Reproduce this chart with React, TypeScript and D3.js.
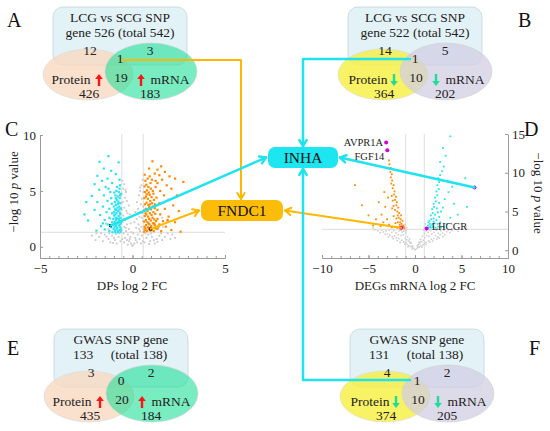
import { useEffect, useRef } from "react";
import * as d3 from "d3";

const SERIF = "'Liberation Serif', 'Times New Roman', Times, serif";

// ---- Venn panels (A, B, E, F)
const vennLetters = ["A", "B", "E", "F"];
const vennTitle1 = ["LCG vs SCG SNP", "LCG vs SCG SNP", "GWAS SNP gene", "GWAS SNP gene"];
const vennTitle2 = [["gene 526 (total 542)"], ["gene 522 (total 542)"], ["133", "(total 138)"], ["131", "(total 138)"]];
// [snp&protein, snp&mRNA, all three, protein&mRNA, protein, mRNA]
const vennCounts = [
  [12, 3, 1, 19, 426, 183],
  [14, 5, 1, 10, 364, 202],
  [3, 2, 0, 20, 435, 184],
  [4, 2, 1, 10, 374, 205],
];
const vennDirection = ["up", "down", "up", "down"];
const hubGenes = ["INHA", "FNDC1"];

// ---- Volcano C (DPs)
const cGrey = [
  [-0.55, 5.9], [-0.45, 5.6], [-0.5, 5.2], [-0.35, 4.9], [-0.58, 4.7], [-0.42, 4.4], [-0.3, 4.1], [-0.52, 4.0], [-0.2, 3.7], [-0.45, 3.5],
  [-0.58, 3.3], [-0.33, 3.2], [-0.15, 2.9], [-0.5, 2.8], [-0.25, 2.6], [-0.4, 2.4], [-0.55, 2.2], [-0.1, 2.1], [-0.3, 2.0], [-0.45, 1.8],
  [-0.2, 1.6], [-0.58, 1.5], [-0.35, 1.4], [-0.05, 1.3], [-0.48, 1.2], [-0.25, 1.1], [-0.12, 0.9], [-0.4, 0.8], [-0.55, 0.7], [-0.3, 0.6],
  [-0.18, 0.5], [-0.08, 0.3], [-0.45, 0.4], [-0.25, 0.2], [-0.02, 0.1], [-0.38, 5.1], [-0.27, 3.0], [-0.48, 2.5], [-0.36, 1.7], [-0.15, 0.7],
  [0.55, 6.0], [0.48, 5.5], [0.4, 5.3], [0.58, 4.9], [0.35, 4.6], [0.5, 4.3], [0.25, 4.0], [0.45, 3.8], [0.58, 3.6], [0.3, 3.4],
  [0.15, 3.1], [0.52, 3.0], [0.38, 2.7], [0.22, 2.5], [0.56, 2.3], [0.1, 2.2], [0.33, 2.0], [0.47, 1.8], [0.2, 1.7], [0.58, 1.6],
  [0.4, 1.4], [0.05, 1.2], [0.28, 1.1], [0.5, 1.0], [0.15, 0.8], [0.38, 0.7], [0.55, 0.5], [0.25, 0.4], [0.1, 0.3], [0.45, 0.3],
  [0.02, 0.15], [0.42, 5.0], [0.3, 3.0], [0.5, 2.6], [0.36, 1.6], [0.18, 0.6],
  [-2.0, 0.6], [-1.8, 0.9], [-1.6, 0.5], [-1.5, 1.1], [-1.3, 0.7], [-1.2, 0.4], [-1.1, 1.0], [-0.95, 0.6], [-0.85, 0.3], [-0.75, 0.9],
  [-0.7, 1.2], [-0.65, 0.5], [-1.7, 1.2], [-1.4, 0.9], [-1.0, 0.8], [-0.9, 1.15], [-1.25, 1.2], [-2.2, 1.0], [-1.95, 1.2], [-1.05, 0.35],
  [0.65, 0.4], [0.75, 0.8], [0.85, 1.1], [0.95, 0.5], [1.05, 0.9], [1.2, 0.3], [1.3, 0.7], [1.45, 1.0], [1.6, 0.6], [1.75, 0.9],
  [1.9, 1.2], [2.05, 0.7], [2.3, 0.8], [0.7, 1.2], [1.0, 1.2], [1.15, 0.6], [1.55, 1.2], [1.35, 0.45], [2.15, 1.1], [0.9, 0.25],
  [1.65, 1.8], [1.85, 2.3], [1.6, 2.6], [-1.3, 1.6], [-1.45, 2.1], [-1.2, 2.5],
];
const cCyan = [
  [-0.64, 1.35], [-0.7, 1.5], [-0.78, 1.4], [-0.86, 1.55], [-0.95, 1.45], [-1.02, 1.6], [-0.66, 1.75], [-0.74, 1.9], [-0.82, 1.7], [-0.9, 1.85],
  [-0.99, 2.0], [-0.63, 2.1], [-0.71, 2.3], [-0.8, 2.15], [-0.88, 2.4], [-0.97, 2.25], [-1.04, 2.5], [-0.65, 2.6], [-0.75, 2.75], [-0.84, 2.55],
  [-0.93, 2.9], [-1.0, 2.8], [-0.68, 3.05], [-0.77, 3.2], [-0.86, 3.0], [-0.95, 3.35], [-0.63, 3.45], [-0.72, 3.6], [-0.82, 3.5], [-0.9, 3.75],
  [-1.01, 3.6], [-0.66, 3.9], [-0.76, 4.05], [-0.85, 4.2], [-0.96, 4.0], [-0.69, 4.35], [-0.8, 4.5], [-0.92, 4.6], [-0.64, 4.75], [-0.74, 4.9],
  [-0.87, 5.0], [-0.98, 4.85], [-0.7, 5.2], [-0.83, 5.35], [-0.67, 5.5], [-0.78, 1.3], [-0.92, 1.3], [-0.68, 2.0], [-0.87, 2.05], [-0.73, 2.5],
  [-0.91, 2.6], [-0.7, 3.35], [-0.88, 3.3], [-0.78, 3.85], [-0.67, 4.6], [-0.63, 1.55], [-0.97, 1.75], [-0.66, 2.9], [-0.99, 3.1], [-0.9, 4.35],
  [-1.3, 8.1], [-1.78, 7.6], [-0.75, 7.55], [-1.55, 7.0], [-1.15, 6.8], [-0.9, 6.5], [-1.9, 6.35], [-1.35, 6.1], [-0.7, 6.0], [-1.65, 5.9],
  [-2.05, 5.6], [-1.1, 5.7], [-1.45, 5.35], [-1.8, 5.1], [-1.2, 4.9], [-1.55, 4.6], [-2.2, 4.55], [-1.15, 4.35], [-1.35, 4.1], [-1.9, 4.0],
  [-2.5, 4.0], [-1.12, 3.85], [-1.6, 3.6], [-1.25, 3.4], [-2.05, 3.3], [-1.4, 3.1], [-1.1, 3.0], [-1.75, 2.85], [-1.25, 2.6], [-1.5, 2.4],
  [-2.4, 2.35], [-1.1, 2.2], [-1.35, 2.0], [-1.7, 1.85], [-1.15, 1.75], [-1.5, 1.55], [-1.25, 1.4], [-1.95, 1.45], [-1.08, 1.3], [-2.6, 2.9],
  [-1.6, 2.1], [-1.3, 5.2],
];
const cOrange = [
  [0.63, 1.35], [0.7, 1.5], [0.79, 1.4], [0.88, 1.6], [0.97, 1.45], [1.06, 1.55], [1.15, 1.4], [1.24, 1.65], [0.65, 1.8], [0.74, 1.95],
  [0.83, 1.75], [0.92, 2.0], [1.01, 1.85], [1.1, 2.1], [1.2, 1.95], [0.64, 2.25], [0.72, 2.4], [0.81, 2.2], [0.9, 2.5], [0.99, 2.35],
  [1.08, 2.6], [1.18, 2.45], [1.28, 2.3], [0.66, 2.75], [0.75, 2.9], [0.85, 2.7], [0.94, 3.0], [1.03, 2.85], [1.13, 3.1], [1.23, 2.95],
  [0.63, 3.25], [0.72, 3.4], [0.81, 3.2], [0.9, 3.55], [1.0, 3.35], [1.1, 3.6], [1.2, 3.45], [0.67, 3.8], [0.76, 3.95], [0.86, 3.75],
  [0.96, 4.1], [1.06, 3.9], [1.16, 4.2], [0.64, 4.35], [0.73, 4.5], [0.83, 4.3], [0.93, 4.65], [1.03, 4.45], [1.13, 4.75], [0.68, 4.9],
  [0.78, 5.05], [0.88, 4.85], [0.99, 5.2], [1.1, 5.0], [0.65, 5.4], [0.75, 5.55], [0.86, 5.35], [0.97, 5.7], [0.7, 5.9], [0.82, 6.1],
  [0.93, 6.3], [0.66, 6.45], [1.05, 6.0], [0.69, 1.65], [0.87, 2.1], [0.7, 3.0], [0.95, 3.8], [0.77, 4.7], [1.22, 3.8], [1.18, 2.1],
  [1.08, 7.65], [1.55, 7.2], [0.9, 7.0], [1.35, 6.9], [1.75, 6.7], [2.0, 6.3], [1.45, 6.4], [1.2, 6.55], [1.6, 6.0], [2.3, 6.1],
  [2.75, 5.8], [1.35, 5.7], [1.85, 5.5], [1.25, 5.35], [2.1, 5.2], [1.5, 5.0], [1.7, 4.6], [2.4, 4.6], [1.3, 4.4], [1.95, 4.2],
  [1.45, 3.9], [2.2, 3.7], [1.35, 3.3], [1.75, 3.4], [2.5, 3.2], [1.5, 2.9], [1.95, 2.7], [1.35, 2.5], [1.65, 2.3], [2.3, 2.2],
  [1.45, 2.0], [1.8, 1.8], [1.35, 1.6], [2.1, 1.5], [1.55, 1.4], [2.6, 1.35], [1.4, 1.8], [1.9, 2.4], [1.25, 5.9],
];
const cMarked = [[-1.19, 1.9], [0.97, 1.6]]; // INHA, FNDC1 proteins

// ---- Volcano D (DEGs mRNA)
const dGrey = [
  [0.0, 0.05], [0.15, 0.2], [-0.15, 0.25], [0.3, 0.35], [-0.3, 0.4], [0.25, 0.55], [-0.25, 0.6], [0.45, 0.4], [-0.45, 0.5], [0.5, 0.8],
  [-0.5, 0.9], [0.4, 1.0], [-0.4, 0.95], [0.65, 0.55], [-0.65, 0.6], [0.7, 1.1], [-0.7, 1.2], [0.6, 1.4], [-0.6, 1.45], [0.85, 0.7],
  [-0.85, 0.75], [0.9, 1.3], [-0.9, 1.35], [0.8, 1.8], [-0.8, 1.75], [1.0, 0.9], [-1.0, 1.0], [1.05, 1.6], [-1.05, 1.55], [1.0, 2.2],
  [-1.0, 2.3], [0.95, 2.6], [-0.95, 2.55], [1.2, 1.0], [-1.2, 1.1], [1.25, 1.9], [-1.25, 2.0], [1.2, 2.5], [-1.2, 2.45], [1.45, 1.2],
  [-1.45, 1.3], [1.5, 1.8], [-1.5, 1.9], [1.4, 2.3], [-1.4, 2.35], [1.55, 2.65], [-1.55, 2.6], [1.75, 1.4], [-1.75, 1.5], [1.8, 2.1],
  [-1.8, 2.0], [1.7, 2.55], [-1.7, 2.5], [2.0, 1.5], [-2.0, 1.6], [2.05, 2.3], [-2.05, 2.25], [2.2, 1.9], [-2.2, 1.85], [2.3, 2.6],
  [-2.3, 2.55], [2.45, 1.7], [-2.45, 1.75], [2.5, 2.2], [-2.5, 2.3], [2.7, 2.0], [-2.7, 1.95], [2.75, 2.5], [-2.75, 2.6], [2.95, 2.2],
  [-2.95, 2.1], [3.1, 2.6], [-3.1, 2.5], [3.2, 2.0], [-3.2, 2.05], [3.4, 2.4], [-3.4, 2.35], [3.6, 2.65], [-3.6, 2.6], [3.75, 2.3],
  [-3.75, 2.25], [4.0, 2.55], [-4.0, 2.5], [4.3, 2.7], [-4.3, 2.65], [4.6, 2.45], [-4.5, 2.9], [5.0, 2.7], [5.5, 3.0], [-0.3, 0.15],
  [0.35, 0.7], [-0.55, 1.1], [0.55, 1.05], [-0.75, 0.45], [0.75, 0.4], [1.15, 0.75], [-1.1, 0.8], [1.6, 1.05], [-1.6, 1.0], [1.9, 1.2],
  [-1.9, 1.25], [2.35, 1.45], [-2.35, 1.5], [2.6, 1.6], [-2.85, 1.7], [3.0, 1.75], [-0.9, 2.9], [1.0, 3.0], [-1.05, 3.3], [1.1, 3.4],
];
const dOrange = [
  [-1.15, 2.8], [-1.3, 2.9], [-1.5, 2.85], [-1.7, 3.0], [-1.9, 2.9], [-2.2, 3.0], [-2.5, 2.95], [-1.25, 3.2], [-1.45, 3.4], [-1.65, 3.3],
  [-1.85, 3.6], [-2.1, 3.5], [-1.35, 3.8], [-1.55, 4.0], [-1.75, 4.2], [-2.0, 4.1], [-2.3, 4.4], [-1.5, 4.5], [-1.7, 4.8], [-1.9, 5.0],
  [-2.15, 5.2], [-1.8, 5.5], [-2.0, 5.8], [-2.3, 5.7], [-1.95, 6.2], [-2.15, 6.5], [-2.4, 6.4], [-2.05, 6.9], [-2.25, 7.2], [-2.5, 7.0],
  [-2.2, 7.6], [-2.4, 8.0], [-2.3, 8.4], [-2.55, 8.6], [-2.45, 9.0], [-2.6, 9.4], [-2.5, 9.8], [-2.65, 10.1], [-2.6, 10.6], [-2.75, 11.1],
  [-2.8, 11.6], [-1.4, 3.1], [-1.6, 3.6], [-1.85, 4.5], [-2.45, 5.4], [-1.2, 3.0],
  [-6.45, 8.4], [-5.7, 5.8], [-4.5, 3.2], [-3.6, 4.6], [-3.2, 5.6], [-3.9, 6.2], [-3.4, 3.6], [-4.2, 4.0], [-3.0, 4.0], [-2.9, 6.8],
  [-3.3, 7.5], [-5.0, 4.5], [-2.8, 3.3], [-3.7, 3.1],
];
const dCyan = [
  [1.3, 2.85], [1.5, 2.95], [1.7, 2.9], [1.95, 3.0], [2.2, 2.9], [2.5, 3.05], [2.8, 2.95], [3.1, 3.0], [1.4, 3.2], [1.6, 3.4],
  [1.85, 3.3], [2.1, 3.5], [2.4, 3.4], [2.7, 3.6], [1.55, 3.8], [1.75, 4.0], [2.0, 4.1], [2.3, 3.9], [2.6, 4.3], [1.7, 4.5],
  [1.9, 4.8], [2.15, 4.6], [2.45, 4.9], [2.8, 5.0], [1.85, 5.3], [2.05, 5.6], [2.35, 5.4], [2.0, 6.0], [2.25, 6.3], [2.6, 6.1],
  [2.15, 6.8], [2.4, 7.1], [2.3, 7.6], [2.55, 7.9], [2.4, 8.4], [2.6, 8.8], [2.5, 9.3], [2.7, 9.7], [1.45, 3.6], [1.65, 3.1],
  [2.0, 3.7],
  [3.8, 14.7], [3.0, 13.2], [3.3, 12.2], [2.7, 11.4], [3.1, 10.8], [3.5, 9.0], [5.4, 9.3], [5.6, 5.6], [3.6, 7.5], [4.2, 6.0],
  [3.2, 6.6], [4.6, 4.6], [3.8, 4.2], [3.0, 5.5], [4.0, 8.2], [2.9, 10.2], [3.4, 3.4],
];
const dMarked = [[-3.1, 13.9], [-2.98, 12.9], [-1.5, 2.9], [1.25, 2.8], [6.4, 8.1]];
const dMarkedNames = ["AVPR1A", "FGF14", "", "LHCGR", ""];

const CYAN_PT = "#27e4f0";
const ORANGE_PT = "#ff8a00";
const CYAN_LINE = "#1fe3ee";
const ORANGE_LINE = "#ffb700";
const AXIS = "#9a9a9a";

const VENN_POS = [[53, 7], [348, 7], [54, 329], [350, 329]];

const chevron = (x1: number, y1: number, x2: number, y2: number, len = 7, ang = 0.55) => {
  const a = Math.atan2(y2 - y1, x2 - x1);
  return `M${x2 - len * Math.cos(a - ang)},${y2 - len * Math.sin(a - ang)}L${x2},${y2}L${x2 - len * Math.cos(a + ang)},${y2 - len * Math.sin(a + ang)}`;
};

const VArrow = ({ x, y, dir }: { x: number; y: number; dir: string }) => {
  // y = text baseline
  const top = y - 10, bot = y + 2;
  const col = dir === "up" ? "#ff1414" : "#1fdc9c";
  const d = dir === "up"
    ? `M${x - 1.2},${bot}L${x - 1.2},${top + 5}L${x - 3.8},${top + 5}L${x},${top}L${x + 3.8},${top + 5}L${x + 1.2},${top + 5}L${x + 1.2},${bot}Z`
    : `M${x - 1.2},${top}L${x - 1.2},${bot - 5}L${x - 3.8},${bot - 5}L${x},${bot}L${x + 3.8},${bot - 5}L${x + 1.2},${bot - 5}L${x + 1.2},${top}Z`;
  return <path d={d} fill={col} />;
};

const Venn = ({ i }: { i: number }) => {
  const [x0, y0] = VENN_POS[i];
  const up = vennDirection[i] === "up";
  const c = vennCounts[i];
  const t2 = vennTitle2[i];
  const fs = 13.5;
  const txt = { fontFamily: SERIF, fontSize: fs, fill: "#222", textAnchor: "middle" as const };
  return (
    <g transform={`translate(${x0},${y0})`}>
      <rect x={0} y={0} width={134} height={58} rx={10} fill="#e2f2f6" stroke="#c3d6db" strokeWidth={0.8} />
      <ellipse cx={35} cy={67.5} rx={45} ry={25.5} fill={up ? "#f8d9c2" : "#f7f04a"} fillOpacity={up ? 0.8 : 0.85} stroke="#d9d9d9" strokeWidth={0.6} />
      <ellipse cx={98} cy={64.5} rx={46} ry={28.5} fill={up ? "#1fdf98" : "#d2cde3"} fillOpacity={up ? 0.6 : 0.75} stroke="#d0d0d0" strokeWidth={0.6} />
      <text x={67} y={15} {...txt}>{vennTitle1[i]}</text>
      {t2.length === 1 ? (
        <text x={67} y={30} {...txt}>{t2[0]}</text>
      ) : (
        <>
          <text x={29} y={30} {...txt}>{t2[0]}</text>
          <text x={85} y={30} {...txt}>{t2[1]}</text>
        </>
      )}
      <text x={37} y={47.5} {...txt}>{c[0]}</text>
      <text x={97} y={47.5} {...txt}>{c[1]}</text>
      <text x={67} y={56} {...txt}>{c[2]}</text>
      <text x={68} y={75} {...txt}>{c[3]}</text>
      <text x={up ? 18 : 20} y={77} {...txt}>Protein</text>
      <VArrow x={46} y={77} dir={vennDirection[i]} />
      <text x={36} y={90.5} {...txt}>{c[4]}</text>
      <VArrow x={88} y={77} dir={vennDirection[i]} />
      <text x={117} y={77} {...txt}>mRNA</text>
      <text x={97} y={90.5} {...txt}>{c[5]}</text>
    </g>
  );
};

const xC = d3.scaleLinear().domain([-5, 5]).range([40, 225]);
const yC = d3.scaleLinear().domain([-1, 10]).range([258, 135]);
const xD = d3.scaleLinear().domain([-10, 10]).range([322, 508]);
const yD = d3.scaleLinear().domain([-1, 15]).range([258, 134]);

const INHA_BOX = { x: 268, y: 147, w: 70, h: 21 };
const FNDC1_BOX = { x: 201, y: 200, w: 82, h: 21 };

export default function App() {
  const axesRef = useRef<SVGGElement>(null);

  useEffect(() => {
    const g = d3.select(axesRef.current);
    g.selectAll("*").remove();
    const style = (sel: any) => {
      sel.attr("font-family", SERIF).attr("font-size", 13);
      sel.selectAll("text").attr("fill", "#222");
      sel.select(".domain").attr("stroke", AXIS);
      sel.selectAll(".tick line").attr("stroke", AXIS);
    };
    // C axes (ticks point inward)
    g.append("g").attr("transform", "translate(0,258)")
      .call(d3.axisBottom(xC).tickValues(d3.range(-5, 5.01, 0.5)).tickSize(-2).tickSizeOuter(0).tickFormat(() => ""))
      .call(style);
    g.append("g").attr("transform", "translate(0,258)")
      .call(d3.axisBottom(xC).tickValues([-5, 0, 5]).tickSize(-3).tickPadding(6).tickSizeOuter(0))
      .call(style);
    g.append("g").attr("transform", "translate(40,0)")
      .call(d3.axisLeft(yC).tickValues([0, 5, 10]).tickSize(-3).tickPadding(4).tickSizeOuter(0))
      .call(style);
    // D axes
    g.append("g").attr("transform", "translate(0,258)")
      .call(d3.axisBottom(xD).tickValues(d3.range(-10, 10.01, 1)).tickSize(-2).tickSizeOuter(0).tickFormat(() => ""))
      .call(style);
    g.append("g").attr("transform", "translate(0,258)")
      .call(d3.axisBottom(xD).tickValues([-10, -5, 0, 5, 10]).tickSize(-3).tickPadding(6).tickSizeOuter(0))
      .call(style);
    g.append("g").attr("transform", "translate(508,0)")
      .call(d3.axisRight(yD).tickValues([0, 5, 10, 15]).tickSize(-3).tickPadding(4).tickSizeOuter(0))
      .call(style);
  }, []);

  const pts = (data: number[][], xs: any, ys: any, fill: string, s: number) =>
    data.map((d, i) => (
      <rect key={i} x={xs(d[0]) - s / 2} y={ys(d[1]) - s / 2} width={s} height={s} fill={fill} />
    ));

  // anchor points
  const cIn = [xC(cMarked[0][0]), yC(cMarked[0][1])];
  const cFn = [xC(cMarked[1][0]), yC(cMarked[1][1])];
  const dFn = [xD(dMarked[2][0]), yD(dMarked[2][1])];
  const dIn = [xD(dMarked[4][0]), yD(dMarked[4][1])];
  const inhaMidY = INHA_BOX.y + INHA_BOX.h / 2;
  const fnMidY = FNDC1_BOX.y + FNDC1_BOX.h / 2;
  const inhaX = 303;
  const fnX = 241;
  const aOne = [VENN_POS[0][0] + 69, VENN_POS[0][1] + 53];
  const bOne = [VENN_POS[1][0] + 62, VENN_POS[1][1] + 52];
  const fOne = [VENN_POS[3][0] + 60, VENN_POS[3][1] + 51];
  // label offsets for the named D genes
  const nameDy = [3.5, 10, 0, 1, 0];

  const letter = { fontFamily: SERIF, fontSize: 20, fill: "#111" };
  const lbl = { fontFamily: SERIF, fontSize: 13, fill: "#222" };

  return (
    <svg width={550} height={431} style={{ position: "absolute", left: 0, top: 0, background: "white" }}>
      <rect width={550} height={431} fill="white" />
      {[0, 1, 2, 3].map((i) => <Venn key={i} i={i} />)}

      {/* panel letters */}
      <text x={7} y={27} {...letter}>{vennLetters[0]}</text>
      <text x={518} y={27} {...letter}>{vennLetters[1]}</text>
      <text x={5} y={136} {...letter}>C</text>
      <text x={524} y={136} {...letter}>D</text>
      <text x={7} y={355} {...letter}>{vennLetters[2]}</text>
      <text x={529} y={355} {...letter}>{vennLetters[3]}</text>

      {/* C volcano */}
      <g>
        <line x1={xC(-0.58)} x2={xC(-0.58)} y1={134} y2={258} stroke="#d4d4d4" strokeWidth={0.8} />
        <line x1={xC(0.58)} x2={xC(0.58)} y1={134} y2={258} stroke="#d4d4d4" strokeWidth={0.8} />
        <line x1={40} x2={225} y1={yC(1.3)} y2={yC(1.3)} stroke="#d4d4d4" strokeWidth={0.8} />
        {pts(cGrey, xC, yC, "#c8c8c8", 1.8)}
        {pts(cCyan, xC, yC, CYAN_PT, 2.2)}
        {pts(cOrange, xC, yC, ORANGE_PT, 2.2)}
        {pts(cMarked, xC, yC, "#000", 3)}
      </g>

      {/* D volcano */}
      <g>
        <line x1={xD(-1)} x2={xD(-1)} y1={134} y2={258} stroke="#d4d4d4" strokeWidth={0.8} />
        <line x1={xD(1)} x2={xD(1)} y1={134} y2={258} stroke="#d4d4d4" strokeWidth={0.8} />
        <line x1={322} x2={508} y1={yD(2.7)} y2={yD(2.7)} stroke="#d4d4d4" strokeWidth={0.8} />
        {pts(dGrey, xD, yD, "#cfcfcf", 1.6)}
        {pts(dOrange, xD, yD, ORANGE_PT, 1.8)}
        {pts(dCyan, xD, yD, CYAN_PT, 1.8)}
        {dMarked.map((d, i) => (
          <circle key={i} cx={xD(d[0])} cy={yD(d[1])} r={2} fill="#d400d8" />
        ))}
        {dMarked.map((d, i) =>
          dMarkedNames[i] ? (
            <text key={i}
              x={d[0] < 0 ? xD(d[0]) - 3 : xD(d[0]) + 5}
              y={yD(d[1]) + nameDy[i]}
              textAnchor={d[0] < 0 ? "end" : "start"}
              fontFamily={SERIF} fontSize={10.5} fill="#222">{dMarkedNames[i]}</text>
          ) : null
        )}
      </g>

      <g ref={axesRef} />

      {/* axis titles */}
      <text x={132} y={290} textAnchor="middle" {...lbl}>DPs log 2 FC</text>
      <text x={415} y={290} textAnchor="middle" {...lbl}>DEGs mRNA log 2 FC</text>
      <text transform="translate(18,192) rotate(-90)" textAnchor="middle" {...lbl}>
        −log 10 <tspan fontStyle="italic">p</tspan> value
      </text>
      <text transform="translate(534,193) rotate(90)" textAnchor="middle" {...lbl}>
        −log 10 <tspan fontStyle="italic">p</tspan> value
      </text>

      {/* connectors */}
      <g fill="none" strokeLinecap="round" strokeLinejoin="round">
        <path d={`M${aOne[0]},${aOne[1]}H${fnX}V${FNDC1_BOX.y - 1}`} stroke={ORANGE_LINE} strokeWidth={2} />
        <path d={chevron(fnX, aOne[1], fnX, FNDC1_BOX.y - 1)} stroke={ORANGE_LINE} strokeWidth={2} />
        <path d={`M${cFn[0]},${cFn[1]}L${FNDC1_BOX.x - 2},${fnMidY}`} stroke={ORANGE_LINE} strokeWidth={2} />
        <path d={chevron(cFn[0], cFn[1], FNDC1_BOX.x - 2, fnMidY)} stroke={ORANGE_LINE} strokeWidth={2} />
        <path d={`M${dFn[0]},${dFn[1]}L${FNDC1_BOX.x + FNDC1_BOX.w + 2},${fnMidY}`} stroke={ORANGE_LINE} strokeWidth={2} />
        <path d={chevron(dFn[0], dFn[1], FNDC1_BOX.x + FNDC1_BOX.w + 2, fnMidY)} stroke={ORANGE_LINE} strokeWidth={2} />

        <path d={`M${bOne[0]},${bOne[1]}H${inhaX}V${INHA_BOX.y - 1}`} stroke={CYAN_LINE} strokeWidth={2.5} />
        <path d={chevron(inhaX, bOne[1], inhaX, INHA_BOX.y - 1)} stroke={CYAN_LINE} strokeWidth={2.5} />
        <path d={`M${fOne[0]},${fOne[1]}H${inhaX}V${INHA_BOX.y + INHA_BOX.h + 1}`} stroke={CYAN_LINE} strokeWidth={2.5} />
        <path d={chevron(inhaX, fOne[1], inhaX, INHA_BOX.y + INHA_BOX.h + 1)} stroke={CYAN_LINE} strokeWidth={2.5} />
        <path d={`M${cIn[0]},${cIn[1]}L${INHA_BOX.x - 2},${inhaMidY}`} stroke={CYAN_LINE} strokeWidth={2.5} />
        <path d={chevron(cIn[0], cIn[1], INHA_BOX.x - 2, inhaMidY)} stroke={CYAN_LINE} strokeWidth={2.5} />
        <path d={`M${dIn[0]},${dIn[1]}L${INHA_BOX.x + INHA_BOX.w + 2},${inhaMidY}`} stroke={CYAN_LINE} strokeWidth={2.5} />
        <path d={chevron(dIn[0], dIn[1], INHA_BOX.x + INHA_BOX.w + 2, inhaMidY)} stroke={CYAN_LINE} strokeWidth={2.5} />
      </g>

      {/* hub gene boxes */}
      <rect x={INHA_BOX.x} y={INHA_BOX.y} width={INHA_BOX.w} height={INHA_BOX.h} rx={7} fill="#1ee6f0" />
      <text x={INHA_BOX.x + INHA_BOX.w / 2} y={INHA_BOX.y + 16} textAnchor="middle" fontFamily={SERIF} fontSize={15.5} fill="#111">{hubGenes[0]}</text>
      <rect x={FNDC1_BOX.x} y={FNDC1_BOX.y} width={FNDC1_BOX.w} height={FNDC1_BOX.h} rx={7} fill="#fbbd0a" />
      <text x={FNDC1_BOX.x + FNDC1_BOX.w / 2} y={FNDC1_BOX.y + 16} textAnchor="middle" fontFamily={SERIF} fontSize={15.5} fill="#111">{hubGenes[1]}</text>
    </svg>
  );
}
